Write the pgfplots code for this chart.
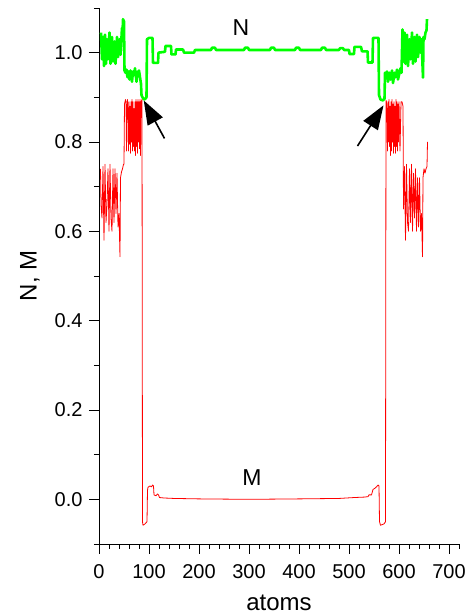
\documentclass[border=0pt]{standalone}
\usepackage{fontspec}
\setmainfont{Liberation Sans}
\usepackage{pgfplots}
\pgfplotsset{compat=1.18}
\usetikzlibrary{arrows.meta}
\definecolor{ngreen}{HTML}{00FF00}
\definecolor{mred}{HTML}{FF0000}

\begin{document}
\begin{tikzpicture}
\begin{axis}[
  scale only axis,
  width=360pt, height=536pt,
  xmin=0, xmax=720,
  ymin=-0.1, ymax=1.1,
  axis lines=left,
  axis line style={-, black, line width=0.8pt},
  tick align=outside,
  major tick length=10pt,
  minor tick length=5pt,
  tick style={black, line width=0.8pt},
  xtick={0,100,...,700},
  minor xtick={20,40,...,720},
  ytick={0,0.2,0.4,0.6,0.8,1.0},
  minor ytick={-0.1,0.1,0.3,0.5,0.7,0.9,1.1},
  yticklabel style={/pgf/number format/.cd, fixed, fixed zerofill, precision=1},
  /pgf/number format/assume math mode=true,
  tick label style={font=\fontsize{20}{23}\selectfont},
  label style={font=\fontsize{24}{28}\selectfont},
  xticklabel shift=7pt,
  yticklabel shift=3pt,
  xlabel shift=9pt,
  ylabel shift=8pt,
  xlabel={atoms},
  ylabel={N, M},
  clip=false,
]
% N
\addplot[ngreen, line width=2.6pt, line join=round] coordinates {
(4,1.045)(6,0.985)(8,1.035)(10,0.97)(12,1.04)(14,0.975)(16,1.03)(18,0.985)(21,1.045)(23,0.975)
(26,1.035)(28,0.98)(31,1.025)(33,0.975)(36,1.035)(38,0.99)(41,1.03)(43,0.995)(46,1.055)(47,1.04)
(48,1.075)(50,1.07)(51,0.96)(53,0.955)(55,0.962)(57,0.945)(59,0.958)(61,0.94)(63,0.96)(66,0.935)
(68,0.958)(70,0.95)(72,0.965)(75,0.935)(77,0.955)(80,0.96)(82,0.945)(84,0.93)(85,0.905)(87,0.9)
(90,0.895)(93,0.897)(95,0.9)(96,1.03)
(100,1.033)(107,1.033)(108,0.977)(118,0.977)(119,1.0)(132,1.002)(133,1.015)(144,1.015)(145,0.996)
(153,0.996)(154,1.007)(168,1.007)(170,1.0)(190,1.0)(192,1.006)(224,1.006)(226,1.011)(232,1.011)
(234,1.006)(290,1.006)(292,1.011)(298,1.011)(300,1.006)(342,1.006)(344,1.011)(350,1.011)(352,1.006)
(392,1.006)(394,1.011)(400,1.011)(402,1.006)(444,1.006)(446,1.011)(452,1.011)(454,1.006)
(480,1.006)(482,1.01)(488,1.01)(490,1.006)(500,1.006)(501,0.997)(510,0.997)(511,1.013)(524,1.013)
(526,1.003)(537,1.003)(538,0.978)(547,0.978)(548,1.033)(559,1.033)(560,0.905)(563,0.895)(568,0.893)
(571,0.897)(572,0.955)(574,0.945)(576,0.958)(578,0.935)(581,0.955)(583,0.94)(586,0.96)(588,0.932)
(591,0.955)(593,0.945)(596,0.962)(598,0.94)(601,0.955)(603,0.965)(605,0.955)
(607,1.052)(609,0.98)(611,1.045)(613,0.975)(616,1.04)(618,0.97)(621,1.03)(623,0.985)(626,1.045)
(628,0.975)(631,1.035)(633,0.98)(636,1.04)(638,0.99)(641,1.035)(643,1.0)(645,1.03)(648,0.944)
(649,1.035)(651,1.03)(653,1.045)(655,1.05)(656,1.075)
};
% M
\addplot[mred, line width=0.8pt, line join=round] coordinates {
(3,0.74)(4,0.66)(6,0.63)(8,0.745)(10,0.58)(12,0.75)(14,0.62)(16,0.66)(18,0.74)(20,0.6)(22,0.75)
(24,0.63)(26,0.6)(28,0.74)(30,0.62)(32,0.74)(34,0.64)(36,0.73)(38,0.61)(40,0.64)(42,0.543)(43,0.72)
(45,0.733)(47,0.74)(49,0.75)(50,0.75)(51,0.885)(53,0.895)(54,0.89)(55,0.78)(56,0.88)(57,0.895)
(58,0.87)(59,0.78)(60,0.89)(61,0.795)(62,0.88)(63,0.775)(64,0.89)(65,0.8)(66,0.895)(67,0.78)
(68,0.89)(69,0.79)(70,0.875)(71,0.78)(72,0.89)(73,0.77)(74,0.895)(75,0.79)(76,0.89)(77,0.775)
(78,0.895)(79,0.8)(80,0.89)(81,0.785)(82,0.895)(83,0.77)(84,0.89)(86,0.895)(87,-0.05)(88,-0.058)
(92,-0.055)(96,-0.05)(97,0.02)(98,0.027)(102,0.03)(105,0.028)(107,0.032)(109,0.03)(110,0.01)
(114,0.008)(117,0.012)(119,0.01)(121,0.004)(130,0.003)(150,0.002)(200,0.001)(300,0.0)(400,0.001)
(480,0.002)(510,0.004)(530,0.005)(538,0.006)(540,0.01)(545,0.01)(548,0.022)(552,0.025)(555,0.028)
(558,0.032)(560,0.03)(561,-0.05)(563,-0.058)(570,-0.055)(573,-0.05)(574,0.893)(575,0.89)(576,0.87)
(577,0.78)(578,0.89)(579,0.8)(580,0.895)(581,0.79)(582,0.88)(583,0.77)(584,0.89)(585,0.78)
(586,0.895)(587,0.8)(588,0.885)(589,0.775)(590,0.89)(591,0.79)(592,0.88)(593,0.775)(594,0.895)
(595,0.79)(596,0.89)(597,0.78)(598,0.885)(599,0.8)(600,0.89)(602,0.78)(604,0.89)(606,0.89)
(608,0.88)(609,0.65)(611,0.745)(613,0.58)(615,0.75)(617,0.62)(619,0.6)(621,0.74)(623,0.62)
(625,0.75)(627,0.6)(629,0.73)(631,0.63)(633,0.74)(635,0.6)(637,0.72)(639,0.61)(641,0.72)(643,0.6)
(645,0.64)(647,0.543)(648,0.72)(650,0.74)(652,0.73)(654,0.74)(656,0.745)(657,0.80)
};
\draw[black, line width=1.6pt, -{Triangle[length=24pt,width=17pt]}] (axis cs:131,0.808) -- (axis cs:89.5,0.893);
\draw[black, line width=1.6pt, -{Triangle[length=24pt,width=17pt]}] (axis cs:517,0.791) -- (axis cs:569,0.882);
\node[font=\fontsize{23}{26}\selectfont] at (axis cs:284,1.056) {N};
\node[font=\fontsize{23}{26}\selectfont] at (axis cs:306,0.049) {M};
\end{axis}
\path (current axis.south west) ++(-99pt,-71pt);
\path (current axis.north east) ++(8pt,8pt);
\end{tikzpicture}
\end{document}
